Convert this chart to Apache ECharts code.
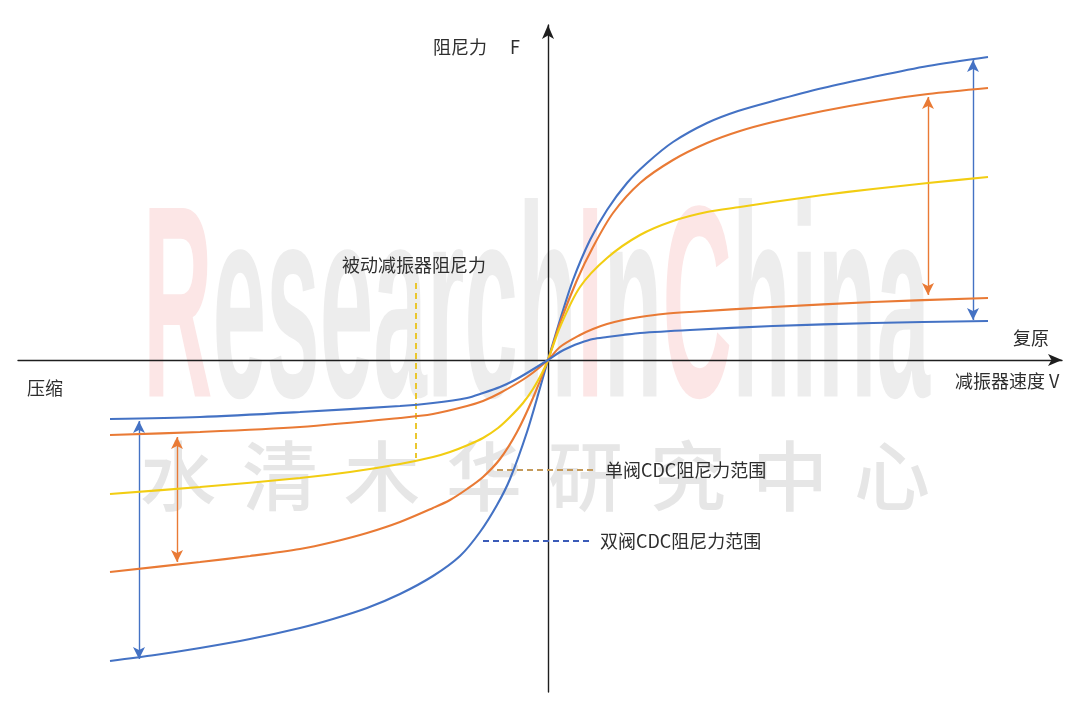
<!DOCTYPE html>
<html>
<head>
<meta charset="utf-8">
<script src="https://cdn.jsdelivr.net/npm/echarts@6/dist/echarts.min.js"></script>
<style>
html,body{margin:0;padding:0;background:#fff;}
#chart{width:1080px;height:711px;}
</style>
</head>
<body>
<div id="chart"></div>
<script>
// ---- data (velocity V, damping force F) ----
const doubleHard = [[-438,-301],[-393,-295],[-348,-288],[-298,-279],[-248,-268],[-215,-259],[-181,-248],[-148,-234],[-115,-216],[-88,-196],[-68,-172],[-51,-145],[-38,-119],[-21,-72],[-8,-28],[0,0],
  [12,40],[25,80],[42,120],[59,150],[79,177],[99,197],[125,218],[159,237],[190,249],[225,259],[275,272],[325,283],[380,294],[440,303]];
const singleHard = [[-438,-212],[-348,-202],[-298,-196],[-248,-189],[-215,-182],[-181,-173],[-148,-162],[-115,-148],[-98,-140],[-81,-129],[-65,-117],[-48,-99],[-31,-72],[-15,-38],[0,0],
  [12,37],[29,80],[45,113],[65,147],[92,177],[125,200],[159,217],[192,229],[225,238],[275,249],[325,258],[380,266],[440,272]];
const passive = [[-438,-134],[-348,-127],[-248,-118],[-198,-112],[-148,-104],[-115,-97],[-98,-92],[-80,-85],[-65,-78],[-50,-68],[-38,-57],[-25,-43],[-15,-29],[-6,-13],[0,0],
  [12,33],[32,73],[59,102],[92,125],[125,139],[159,148],[192,153],[225,158],[275,165],[325,171],[380,177],[440,183]];
const singleSoft = [[-438,-75],[-348,-72],[-248,-67],[-148,-58],[-115,-54],[-81,-46],[-65,-41],[-48,-33],[-21,-17],[0,0],
  [12,13],[32,25],[45,31],[59,36],[75,40],[92,43],[115,46],[142,48],[225,53],[325,58],[440,62]];
const doubleSoft = [[-438,-59],[-348,-57],[-248,-52],[-148,-46],[-115,-43],[-81,-38],[-65,-33],[-48,-27],[-35,-21],[-21,-13],[0,0],
  [12,8],[22,13],[32,17],[45,21],[59,23],[75,25],[92,27],[142,30],[225,34],[325,37],[440,39]];

// range arrows [x, yFrom, yTo]
const doubleRangeArrows = [[425,300,40],[-409,-61,-299]];
const singleRangeArrows = [[380,263,65],[-371,-77,-202]];
// leader lines [[x1,y1],[x2,y2]]
const passiveLeader = [[-132,77],[-132,-98]];
const singleLeader = [[-51,-110],[49,-110]];
const doubleLeader = [[-65,-181],[42,-181]];

const axisTitleF = '阻尼力';
const axisTitleFSym = 'F';
const axisTitleV = '减振器速度 V';
const labelRebound = '复原';
const labelCompress = '压缩';
const labelPassive = '被动减振器阻尼力';
const labelSingle = '单阀CDC阻尼力范围';
const labelDouble = '双阀CDC阻尼力范围';

const BLUE = '#4472C4', ORANGE = '#E97A35', YELLOW = '#F2CD12';
const FONT = '"Noto Sans CJK SC", "Noto Sans", sans-serif';

function arrowLines(arr){
  return arr.map(a => [{coord:[a[0],a[1]]},{coord:[a[0],a[2]]}]);
}
function curve(name, data, color, markLine){
  const s = {name, type:'line', data, smooth:0.3, showSymbol:false, silent:true, z:5,
    lineStyle:{color, width:2.1}, itemStyle:{color}};
  if (markLine) s.markLine = markLine;
  return s;
}
function arrowMark(arr, color){
  return {silent:true, symbol:['arrow','arrow'], symbolSize:[9,12], label:{show:false},
    lineStyle:{color, width:1.4, type:'solid'}, emphasis:{disabled:true}, data:arrowLines(arr)};
}
function dashMark(seg, color){
  return {silent:true, symbol:['none','none'], label:{show:false},
    lineStyle:{color, width:1.8, type:[6,4]}, emphasis:{disabled:true},
    data:[[{coord:seg[0]},{coord:seg[1]}]]};
}

const chart = echarts.init(document.getElementById('chart'), null, {renderer:'canvas'});

// watermark sizing
const wmFont = 'bold 274px "Liberation Sans Narrow", "Liberation Sans", sans-serif';
const cvs = document.createElement('canvas').getContext('2d');
cvs.font = wmFont;
const wmW = cvs.measureText('ResearchInChina').width;
const wmScale = 787 / wmW;
const wmChars = '水清木华研究中心'.split('');

const graphics = [
  {type:'text', x:143, y:458, scaleX:wmScale, z:-10, silent:true,
   style:{text:'{p|R}{g|esearch}{p|I}{g|n}{p|C}{g|hina}', verticalAlign:'bottom', align:'left',
     rich:{p:{fill:'#fce6e6', font:wmFont}, g:{fill:'#ededed', font:wmFont}}}},
];
wmChars.forEach((c,i)=>{
  graphics.push({type:'text', x:178 + 102*i, y:476, z:-10, silent:true,
    style:{text:c, fontSize:76, fontWeight:500, fontFamily:FONT, fill:'#e6e6e6', align:'center', verticalAlign:'middle'}});
});
const txt = (t,x,y,size)=>({type:'text', x, y, z:20, silent:true,
  style:{text:t, fontSize:size||18, fontFamily:FONT, fill:'#2e2e2e', align:'left', verticalAlign:'middle'}});
graphics.push(txt(axisTitleF,433,47,18));
graphics.push(txt(axisTitleFSym,510,47,18));
graphics.push(txt(labelRebound,1013,338,18));
graphics.push(txt(axisTitleV,955,381,18));
graphics.push(txt(labelCompress,27,388,18));
graphics.push(txt(labelPassive,342,265,18));
graphics.push(txt(labelSingle,605,470,18));
graphics.push(txt(labelDouble,600,541,18));

const axisCommon = {type:'value', axisLabel:{show:false}, axisTick:{show:false}, splitLine:{show:false},
  axisLine:{show:true, onZero:true, symbol:['none','arrow'], symbolSize:[9,14], symbolOffset:[0,0],
    lineStyle:{color:'#1e1e1e', width:1.4}}};

chart.setOption({
  animation:false,
  backgroundColor:'#fff',
  grid:{left:18, right:18, top:25, bottom:19, containLabel:false},
  xAxis:Object.assign({}, axisCommon, {min:-530, max:514}),
  yAxis:Object.assign({}, axisCommon, {min:-332, max:335}),
  graphic:graphics,
  series:[
    curve('双阀硬', doubleHard, BLUE, arrowMark(doubleRangeArrows, BLUE)),
    curve('单阀硬', singleHard, ORANGE, arrowMark(singleRangeArrows, ORANGE)),
    curve('被动', passive, YELLOW, dashMark(passiveLeader, '#E8C21A')),
    curve('单阀软', singleSoft, ORANGE, dashMark(singleLeader, '#C49A5A')),
    curve('双阀软', doubleSoft, BLUE, dashMark(doubleLeader, '#3B5BB8'))
  ]
});
</script>
</body>
</html>
